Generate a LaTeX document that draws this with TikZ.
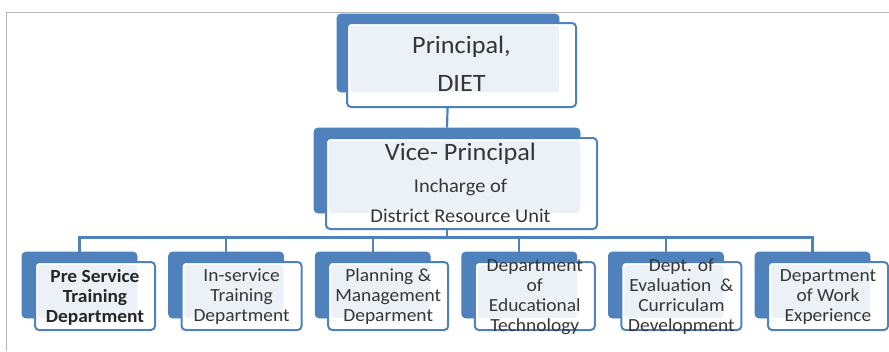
\documentclass[tikz,border=0pt]{standalone}
\usepackage{fontspec}
\setmainfont[FakeStretch=1.05]{Carlito}
\definecolor{ob}{HTML}{4F81BD}
\definecolor{obl}{HTML}{ECF1F8}
\definecolor{txt}{HTML}{363636}
\begin{document}
\begin{tikzpicture}[x=1pt,y=-1pt,
  back/.style={draw=ob, fill=ob, rounded corners=4pt, line width=0.8pt, inner sep=0pt},
  front/.style={draw=ob, fill=white, rounded corners=4pt, line width=2pt, inner sep=0pt},
  tint/.style={fill=obl, rounded corners=3pt},
  conn/.style={draw=ob, line width=2.2pt},
  frameline/.style={draw=black!28, line width=1pt},
  big/.style={text=txt, inner sep=0pt, anchor=base, font=\fontsize{25}{30}\selectfont},
  mid/.style={text=txt, inner sep=0pt, anchor=base, font=\fontsize{19.5}{24}\selectfont},
  small/.style={text=txt, inner sep=0pt, align=center, font=\fontsize{18.5}{20}\selectfont}]
\useasboundingbox (0,0) rectangle (889,351);
\draw[frameline] (6.5,351) -- (6.5,12.5) -- (889,12.5);

% back boxes
\node[back, minimum width=222, minimum height=78] (pb) at (448,53) {};
\node[back, minimum width=266, minimum height=85] (vb) at (447,170.5) {};
\foreach \i/\L in {1/35,2/181.6,3/328.2,4/474.8,5/621.4,6/768}{
  \node[back, minimum width=115, minimum height=66] (cb\i) at (\L+44.5,285) {};
}

% connectors
\draw[conn] (pb.south) -- (vb.north);
\draw[conn] (vb.south) -- ++(0,24) coordinate (bus);
\draw[conn] (cb1.north) |- (bus) -| (cb6.north);
\foreach \i in {2,3,4,5}{
  \draw[conn] (cb\i.north) -- (cb\i.north |- bus);
}

% front boxes
\node[front, minimum width=229, minimum height=84] (pf) at (461.5,65) {};
\fill[tint] (350,26) rectangle (559,92);
\node[front, minimum width=271, minimum height=91] (vf) at (461.5,183.5) {};
\fill[tint] (329,141) rectangle (580,213);
\foreach \i/\L in {1/35,2/181.6,3/328.2,4/474.8,5/621.4,6/768}{
  \node[front, minimum width=120, minimum height=68] (cf\i) at (\L+60,296) {};
  \fill[tint] (\L+3,265) rectangle (\L+102,318);
}

% texts
\node[big] (pt1) at (461.5,53) {Principal,};
\node[big] (pt2) at (461.5,91) {DIET};
\node[big] (vt1) at (460.5,160) {Vice- Principal};
\node[mid] (vt2) at (460.5,192) {Incharge of};
\node[mid] (vt3) at (460.5,222) {District Resource Unit};

\node[small, text=black!85, font=\fontsize{18.5}{20}\selectfont\bfseries] (ct1) at (95,297) {Pre Service\\Training\\Department};
\node[small] (ct2) at (241.6,297) {In-service\\Training\\Department};
\node[small] (ct3) at (388.2,297) {Planning \&\\Management\\Deparment};
\node[small] (ct4) at (534.8,297) {Department\\of\\Educational\\Technology};
\node[small] (ct5) at (681.4,297) {Dept. of\\Evaluation~ \&\\Curriculam\\Development};
\node[small] (ct6) at (828,297) {Department\\of Work\\Experience};
\end{tikzpicture}
\end{document}
